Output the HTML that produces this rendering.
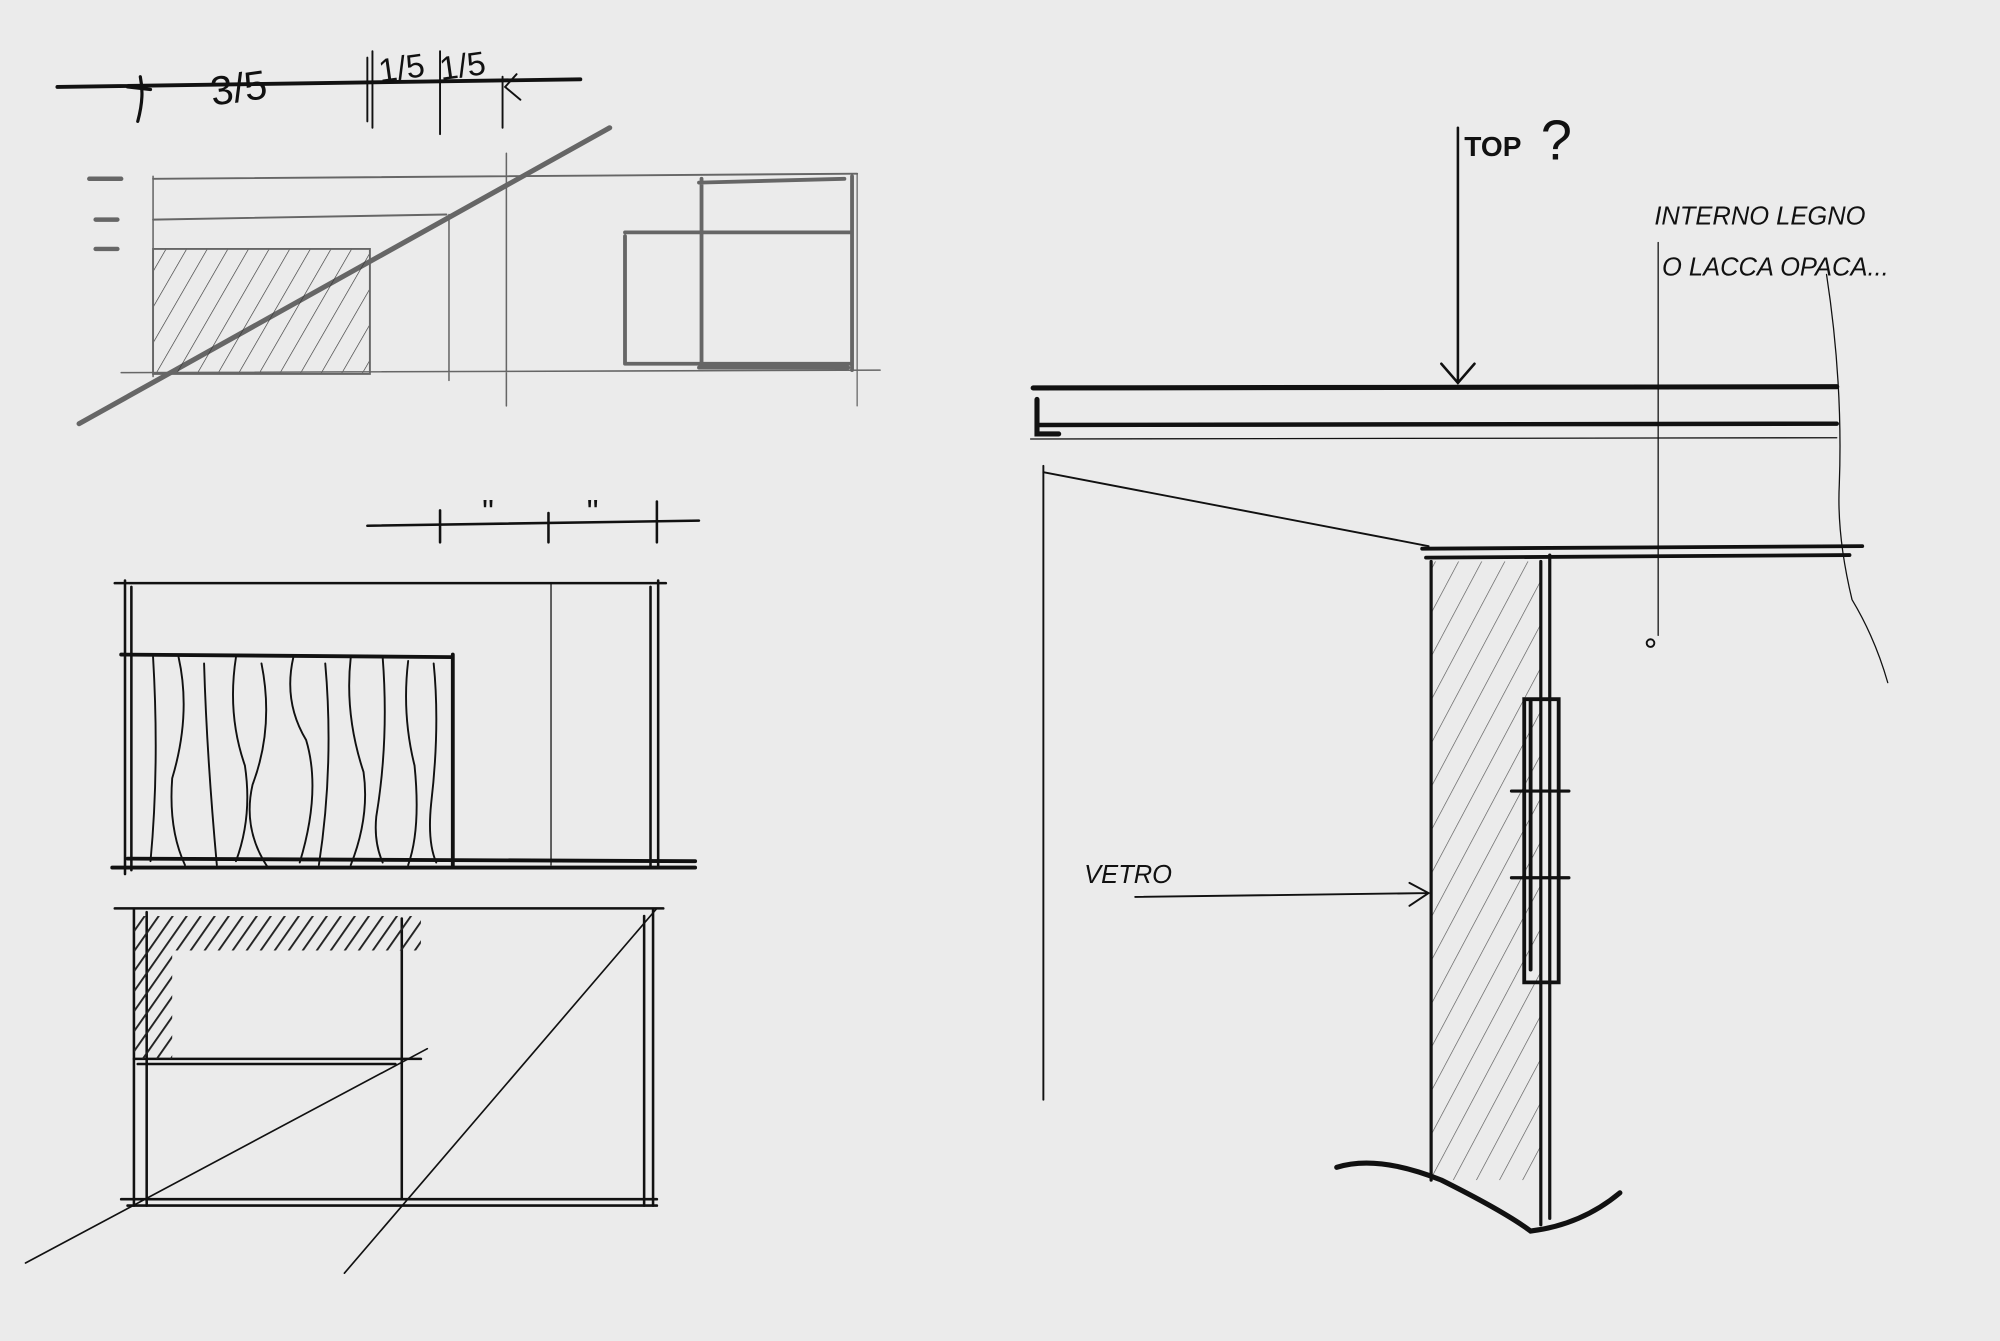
<!DOCTYPE html>
<html><head><style>
html,body{margin:0;padding:0;background:#ebebeb;}
svg{display:block;}
text{font-family:"Liberation Sans",sans-serif;fill:#111;}
</style></head><body>
<svg width="2000" height="1341" viewBox="0 0 1568 1051" xmlns="http://www.w3.org/2000/svg">
<rect width="1568" height="1051" fill="#ebebeb"/>
<defs>
<pattern id="h1" width="14" height="14" patternUnits="userSpaceOnUse" patternTransform="rotate(30)">
<line x1="0" y1="0" x2="0" y2="14" stroke="#333" stroke-width="1"/></pattern>
<pattern id="h2" width="9" height="9" patternUnits="userSpaceOnUse" patternTransform="rotate(35)">
<line x1="0" y1="0" x2="0" y2="9" stroke="#222" stroke-width="3"/></pattern>
<pattern id="h3" width="16" height="16" patternUnits="userSpaceOnUse" patternTransform="rotate(28)">
<line x1="0" y1="0" x2="0" y2="16" stroke="#555" stroke-width="1"/></pattern>
</defs>
<!-- top-left -->
<g stroke="#111" fill="none" stroke-linecap="round">
<path d="M45 68 L455 62" stroke-width="3"/>
<path d="M110 60 C112 70 112 80 108 95 M100 68 L118 70" stroke-width="2.5"/>
<path d="M288 45 V95 M292 40 V100 M345 40 V105 M394 60 V100 M405 58 L396 68 L408 78" stroke-width="1.5"/>
</g>
<text x="165" y="80" font-size="32" transform="rotate(-8 185 70)">3/5</text>
<text x="297" y="62" font-size="26" transform="rotate(-8 315 55)">1/5</text>
<text x="345" y="60" font-size="26" transform="rotate(-8 365 55)">1/5</text>
<g stroke="#666" fill="none" stroke-linecap="round">
<path d="M62 332 L478 100" stroke-width="4"/>
<path d="M70 140 H95 M75 172 H92 M75 195 H92" stroke-width="3.5"/>
<path d="M120 140 L672 136 M120 172 L350 168" stroke-width="1.5"/>
<path d="M120 195 H290 V293 H120 Z" fill="url(#h1)" stroke-width="1.5"/>
<path d="M95 292 L690 290 M120 138 V295 M352 168 V298 M397 120 V318" stroke-width="1.2"/>
<path d="M490 182 H668 M490 285 H668 M490 185 V285 M550 140 V288 M668 138 V290 M548 143 L662 140 M548 288 L665 288" stroke-width="3"/>
<path d="M672 136 V318" stroke-width="1"/>
</g>
<!-- bottom-left -->
<g stroke="#111" fill="none" stroke-linecap="round">
<path d="M288 412 L548 408" stroke-width="2"/>
<path d="M345 400 V425 M430 402 V425 M515 393 V425" stroke-width="2"/>
<text x="378" y="410" font-size="26" stroke="none">"</text>
<text x="460" y="410" font-size="26" stroke="none">"</text>
<path d="M90 457 L522 457" stroke-width="2"/>
<path d="M98 455 V685 M103 460 V682 M516 455 V680 M510 460 V680" stroke-width="2"/>
<path d="M432 457 V678" stroke-width="1"/>
<path d="M95 513 L355 515 M355 513 V680" stroke-width="3"/>
<path d="M120 515 Q125 600 118 675 M140 515 Q150 560 135 610 Q132 650 145 678 M160 520 Q162 590 170 678 M185 515 Q178 560 192 600 Q198 640 185 675 M205 520 Q215 570 198 615 Q190 650 210 680 M230 515 Q222 550 240 580 Q252 620 235 676 M255 520 Q262 600 250 678 M275 515 Q270 560 285 605 Q290 640 275 678 M300 515 Q305 580 295 640 Q293 660 300 676 M320 518 Q315 560 325 600 Q330 650 320 678 M340 520 Q345 570 338 630 Q335 660 342 676" stroke-width="1.5"/>
<path d="M88 680 L545 680 M100 673 L545 675" stroke-width="3"/>
<path d="M90 712 L520 712 M105 712 V945 M115 715 V945 M512 712 V945 M505 718 V945" stroke-width="2"/>
<path d="M95 940 L515 940 M100 945 L515 945" stroke-width="2"/>
<path d="M315 720 V940 M105 830 L330 830 M108 834 L310 834" stroke-width="2"/>
<rect x="105" y="718" width="225" height="27" fill="url(#h2)" stroke="none"/>
<rect x="105" y="745" width="30" height="85" fill="url(#h2)" stroke="none"/>
<path d="M20 990 L335 822 M270 998 L515 712" stroke-width="1.3"/>
</g>
<!-- right -->
<g stroke="#111" fill="none" stroke-linecap="round">
<path d="M1143 100 V298 M1130 285 L1143 300 L1156 285" stroke-width="2"/>
<path d="M810 304 L1440 303" stroke-width="4"/>
<path d="M815 333 L1440 332" stroke-width="3.5"/>
<path d="M813 313 V340 H830" stroke-width="4"/>
<path d="M808 344 L1440 343" stroke-width="1"/>
<path d="M818 365 V862" stroke-width="1.5"/>
<path d="M818 370 L1120 428" stroke-width="1.5"/>
<path d="M1115 430 L1460 428 M1118 437 L1450 435" stroke-width="3"/>
<rect x="1122" y="440" width="86" height="485" fill="url(#h3)" stroke="none"/>
<path d="M1122 440 V925 M1208 440 V960 M1215 435 V955" stroke-width="2.5"/>
<path d="M1195 548 H1222 V770 H1195 Z M1200 548 V760" stroke-width="3"/>
<path d="M1185 620 H1230 M1185 688 H1230" stroke-width="2.5"/>
<path d="M1048 915 Q1080 905 1130 925 Q1180 950 1200 965 Q1240 960 1270 935" stroke-width="4"/>
<path d="M890 703 L1120 700 M1105 692 L1120 700 L1105 710" stroke-width="1.5"/>
<path d="M1300 190 V498" stroke-width="1"/>
<circle cx="1294" cy="504" r="3" stroke-width="1.5"/>
<path d="M1432 215 Q1445 300 1442 380 Q1440 420 1452 470 Q1470 500 1480 535" stroke-width="1"/>
</g>
<text x="1148" y="122" font-size="22" font-weight="bold">TOP</text>
<text x="1208" y="125" font-size="44">?</text>
<text x="1297" y="176" font-size="20" font-style="italic">INTERNO LEGNO</text>
<text x="1303" y="216" font-size="20" font-style="italic">O LACCA OPACA...</text>
<text x="850" y="692" font-size="20" font-style="italic">VETRO</text>
</svg>
</body></html>
